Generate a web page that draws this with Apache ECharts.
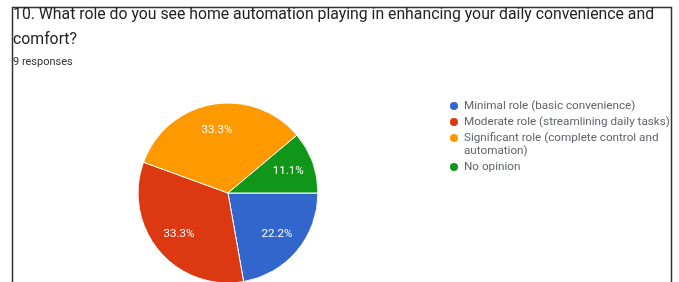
<!DOCTYPE html>
<html>
<head>
<meta charset="utf-8">
<script src="https://cdn.jsdelivr.net/npm/echarts@6/dist/echarts.min.js"></script>
<style>
  html, body { margin: 0; padding: 0; background: #fff; }
  #chart-pie { width: 679px; height: 282px; }
</style>
</head>
<body>
<div id="chart-pie"></div>
<script>
// datos de la pregunta 10
var categorias = [
  "Minimal role (basic convenience)",
  "Moderate role (streamlining daily tasks)",
  "Significant role (complete control and automation)",
  "No opinion"
];
var respuestas = [2, 3, 3, 1];
var colores = ["#3366cc", "#dc3912", "#ff9900", "#109618"];
var titulo = "10. What role do you see home automation playing in enhancing your daily convenience and\ncomfort?";
var subtitulo = "9 responses";

var Mydata = categorias.map(function (nombre, i) {
  return { name: nombre, value: respuestas[i] };
});

// leyenda partida en tres bloques para que el punto quede en la primera linea
function leyenda(nombres, top) {
  return {
    orient: "vertical",
    left: 448,
    top: top,
    padding: 0,
    itemGap: 3,
    icon: "circle",
    itemWidth: 10,
    itemHeight: 10,
    selectedMode: false,
    textStyle: {
      fontSize: 11.7,
      color: "#5f6368",
      lineHeight: 13,
      rich: {
        gap: { height: 13, lineHeight: 13 },
        t: { fontSize: 11.7, color: "#5f6368", lineHeight: 13 }
      }
    },
    data: nombres,
    formatter: function (name) {
      if (name.indexOf("control and ") > 0) {
        var partes = name.split("control and ");
        return "{gap|}\n{t|" + partes[0] + "control and}\n{t|" + partes[1] + "}";
      }
      return name;
    }
  };
}

var chartDom = document.getElementById("chart-pie");
var myChart = echarts.init(chartDom);

var option = {
  animation: false,
  color: colores,
  textStyle: { fontFamily: "Roboto, sans-serif" },
  title: {
    text: titulo,
    subtext: subtitulo,
    left: 13,
    top: 3,
    padding: 0,
    itemGap: 3,
    textStyle: { fontSize: 15.8, fontWeight: "normal", color: "#202124", lineHeight: 25 },
    subtextStyle: { fontSize: 11, color: "#333", lineHeight: 12 }
  },
  legend: [
    leyenda(categorias.slice(0, 2), 99.5),
    leyenda(categorias.slice(2, 3), 118.5),
    leyenda(categorias.slice(3), 160.5)
  ],
  series: [
    {
      name: "Q10",
      type: "pie",
      center: [228, 193],
      radius: 90,
      startAngle: 0,
      clockwise: true,
      silent: true,
      label: { show: false },
      labelLine: { show: false },
      itemStyle: { borderColor: "#fff", borderWidth: 1 },
      data: Mydata
    },
    {
      // serie fantasma solo para ubicar los porcentajes
      name: "labels",
      type: "pie",
      center: [228, 193],
      radius: [32, 90],
      startAngle: 0,
      clockwise: true,
      silent: true,
      itemStyle: { color: "rgba(0,0,0,0)" },
      label: {
        show: true,
        position: "inside",
        color: "#fff",
        fontSize: 11.5,
        formatter: function (p) {
          return p.percent.toFixed(1) + "%";
        }
      },
      labelLine: { show: false },
      data: Mydata
    }
  ],
  graphic: [
    {
      type: "polyline",
      silent: true,
      shape: { points: [[12.5, 282], [12.5, 7.5], [671.5, 7.5], [671.5, 282]] },
      style: { fill: null, stroke: "#333", lineWidth: 1.5 }
    }
  ]
};

myChart.setOption(option);
</script>
</body>
</html>
